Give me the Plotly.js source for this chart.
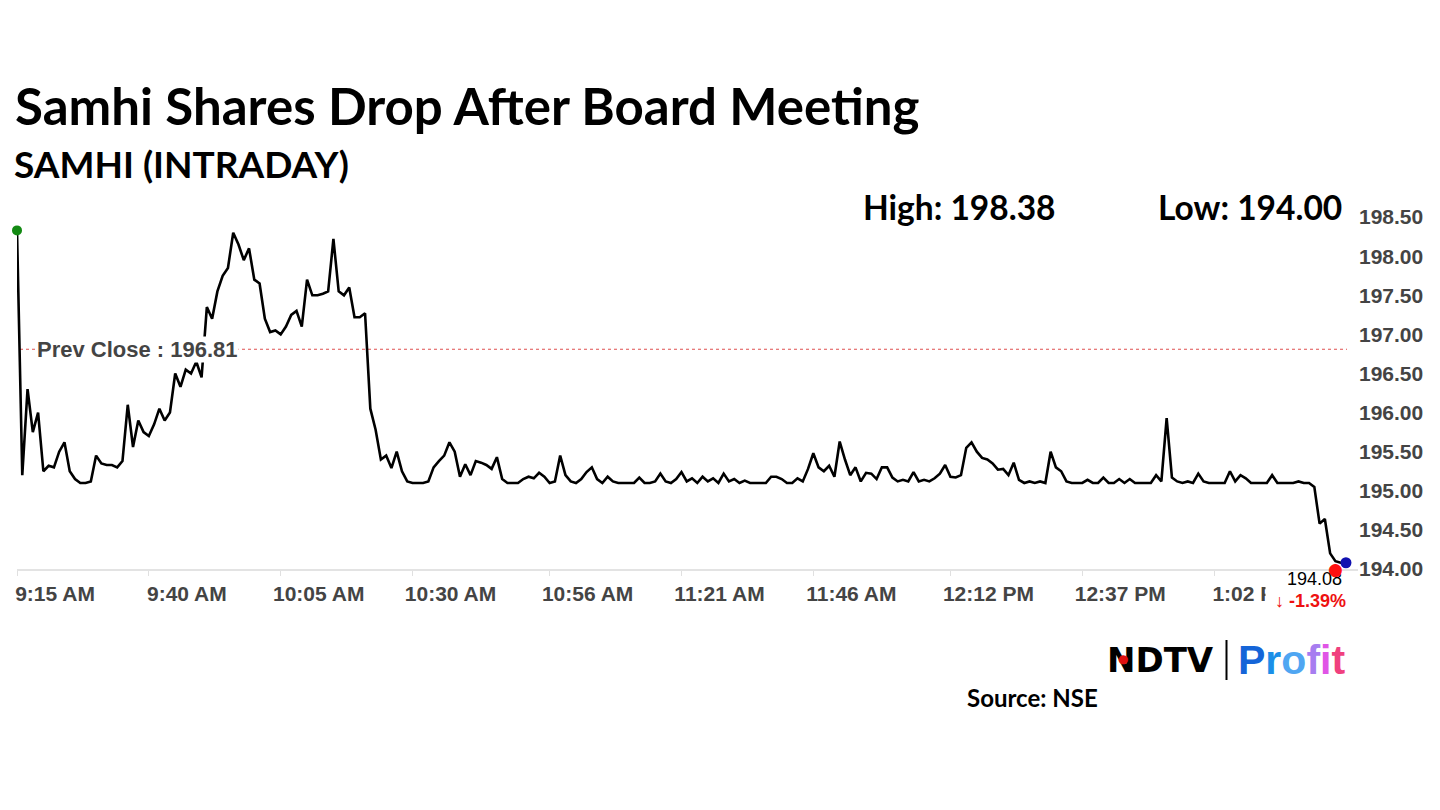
<!DOCTYPE html>
<html><head><meta charset="utf-8">
<script src="https://cdn.plot.ly/plotly-3.0.1.min.js"></script>
<style>html,body{margin:0;padding:0;background:#fff;} #chart{width:1440px;height:810px;}</style>
</head><body><div id="chart"></div>
<script>
// ---------- DATA ----------
const sessionDate = "2024-01-01";
const startHour = 9, startMinute = 15;   // first sample 9:15 AM, one sample per minute
const prices = [
198.33,195.20,196.30,195.75,196.00,195.25,195.32,195.30,195.50,195.62,
195.25,195.15,195.10,195.10,195.12,195.45,195.35,195.33,195.33,195.30,
195.38,196.10,195.56,195.90,195.75,195.70,195.85,196.05,195.90,196.00,
196.50,196.33,196.55,196.50,196.65,196.45,197.35,197.20,197.55,197.75,
197.85,198.30,198.15,197.95,198.10,197.70,197.65,197.20,197.03,197.05,
197.00,197.10,197.25,197.30,197.10,197.70,197.50,197.50,197.52,197.55,
198.22,197.55,197.50,197.60,197.22,197.22,197.27,196.05,195.78,195.40,
195.45,195.29,195.50,195.25,195.12,195.10,195.10,195.10,195.12,195.30,
195.38,195.45,195.62,195.50,195.18,195.34,195.20,195.38,195.36,195.33,
195.28,195.43,195.15,195.10,195.10,195.10,195.15,195.18,195.16,195.23,
195.18,195.10,195.12,195.45,195.20,195.12,195.10,195.15,195.24,195.30,
195.15,195.10,195.18,195.12,195.10,195.10,195.10,195.10,195.17,195.10,
195.10,195.12,195.22,195.12,195.10,195.15,195.24,195.12,195.16,195.10,
195.18,195.12,195.16,195.10,195.22,195.12,195.15,195.10,195.13,195.10,
195.10,195.10,195.10,195.18,195.18,195.15,195.10,195.10,195.16,195.12,
195.28,195.48,195.30,195.25,195.32,195.18,195.63,195.40,195.20,195.30,
195.12,195.23,195.22,195.15,195.30,195.30,195.17,195.12,195.14,195.12,
195.24,195.12,195.14,195.12,195.16,195.22,195.33,195.18,195.17,195.20,
195.55,195.62,195.50,195.42,195.40,195.35,195.27,195.28,195.20,195.36,
195.14,195.10,195.12,195.10,195.12,195.10,195.50,195.30,195.25,195.12,
195.10,195.10,195.10,195.14,195.10,195.10,195.17,195.10,195.10,195.15,
195.10,195.15,195.10,195.10,195.10,195.10,195.20,195.12,195.93,195.17,
195.12,195.10,195.12,195.10,195.22,195.12,195.10,195.10,195.10,195.10,
195.25,195.12,195.20,195.16,195.10,195.10,195.10,195.10,195.20,195.10,
195.10,195.10,195.10,195.12,195.10,195.10,195.05,194.58,194.64,194.20,
194.10,194.08,194.08
];
const tickMinutes = [0, 25, 50, 75, 101, 126, 151, 177, 202, 227];
const tickLabels = ["9:15 AM","9:40 AM","10:05 AM","10:30 AM","10:56 AM","11:21 AM","11:46 AM","12:12 PM","12:37 PM","1:02 PM"];
const yTickValues = [194.0,194.5,195.0,195.5,196.0,196.5,197.0,197.5,198.0,198.5];
const yTickLabels = ["194.00","194.50","195.00","195.50","196.00","196.50","197.00","197.50","198.00","198.50"];
const prevClose = 196.81;
const dayHigh = 198.38;
const dayLow = 194.00;
const lowMinute = 250;
const lastPrice = 194.08;
const changePct = -1.39;
const titleText = "Samhi Shares Drop After Board Meeting";
const subtitleText = "SAMHI (INTRADAY)";
const sourceText = "Source: NSE";

// ---------- HELPERS ----------
function pad(n){ return (n<10?"0":"")+n; }
function minuteToTime(m){
  const total = startHour*60 + startMinute + m;
  const h = Math.floor(total/60), mi = Math.floor(total%60), s = Math.round((total - Math.floor(total))*60);
  return sessionDate + " " + pad(h) + ":" + pad(mi) + ":" + pad(s);
}
const times = prices.map((p,i)=>minuteToTime(i));
const lastIdx = prices.length-1;

// layout geometry (pixels)
const W=1440, H=810, L=17, R=1358, T=209, B=569;
const px = x => (x-L)/(R-L);
const py = y => (B-y)/(B-T);

const axisFont = {family:"Liberation Sans, Arial, sans-serif", size:21, color:"#444", weight:700};

const traces = [
  {x: times, y: prices, type:"scatter", mode:"lines", line:{color:"#000", width:2.6}, hoverinfo:"skip"},
  {x:[times[0]], y:[prices[0]], type:"scatter", mode:"markers", marker:{color:"#138a13", size:10}, cliponaxis:false},
  {x:[times[lastIdx]], y:[lastPrice], type:"scatter", mode:"markers", marker:{color:"#1010b0", size:11}, cliponaxis:false}
];

const layout = {
  width:W, height:H, showlegend:false,
  paper_bgcolor:"#fff", plot_bgcolor:"#fff",
  margin:{l:L, r:W-R, t:T, b:H-B, pad:0},
  title:{text:"<b>"+titleText+"</b>", x:15/W, xref:"container", xanchor:"left",
         y:1-107/H, yref:"container", yanchor:"middle",
         font:{family:"Lato, sans-serif", size:51, color:"#000"}},
  xaxis:{type:"date", range:[minuteToTime(0), minuteToTime((R-L)/((1346-L)/lastIdx))],
         tickvals: tickMinutes.map(minuteToTime), ticktext: tickLabels,
         ticks:"outside", ticklen:5, tickcolor:"#e0e0e0", tickwidth:1,
         showline:true, linecolor:"#e3e3e3", linewidth:2, showgrid:false, zeroline:false,
         ticklabelshift:38, tickfont:axisFont, fixedrange:true},
  yaxis:{side:"right", range:[194.0, 194.0 + (B-T)/78.2], tickvals:yTickValues, ticktext:yTickLabels,
         ticks:"", showline:false, showgrid:false, zeroline:false, tickfont:axisFont, fixedrange:true},
  shapes:[
    {type:"line", xref:"paper", yref:"y", x0:px(20), x1:px(1347), y0:prevClose, y1:prevClose,
     line:{color:"#e05050", width:1.2, dash:"dot"}, layer:"below"},
    {type:"line", xref:"paper", yref:"paper", x0:px(1226.5), x1:px(1226.5), y0:py(640), y1:py(680),
     line:{color:"#000", width:2}}
  ],
  annotations:[
    {text:"<b>"+subtitleText+"</b>", xref:"paper", yref:"paper", x:px(12), y:py(163), xanchor:"left", yanchor:"middle",
     showarrow:false, font:{family:"Lato, sans-serif", size:37, color:"#000"}},
    {text:"<b>High: "+dayHigh.toFixed(2)+"</b>", xref:"paper", yref:"paper", x:px(861), y:py(207), xanchor:"left", yanchor:"middle",
     showarrow:false, font:{family:"Lato, sans-serif", size:33.5, color:"#000"}},
    {text:"<b>Low: "+dayLow.toFixed(2)+"</b>", xref:"paper", yref:"paper", x:px(1344), y:py(207), xanchor:"right", yanchor:"middle",
     showarrow:false, font:{family:"Lato, sans-serif", size:33.5, color:"#000"}},
    {text:"<b>Prev Close : "+prevClose.toFixed(2)+"</b>", xref:"paper", yref:"y", x:px(36), y:prevClose, xanchor:"left", yanchor:"middle",
     showarrow:false, bgcolor:"#fff", borderpad:0, font:{family:"Liberation Sans, Arial, sans-serif", size:22, color:"#444"}},
    {text:"<b>\u2193 "+changePct.toFixed(2)+"%</b>", xref:"paper", yref:"paper", x:px(1347), y:py(580), xanchor:"right", yanchor:"top",
     width:80, height:30, align:"right", valign:"bottom", showarrow:false, bgcolor:"#fff", borderpad:0,
     font:{family:"Liberation Sans, Arial, sans-serif", size:18, color:"#ee1111"}},
    {text:lastPrice.toFixed(2), xref:"paper", yref:"paper", x:px(1344), y:py(579), xanchor:"right", yanchor:"middle",
     showarrow:false, font:{family:"Liberation Sans, Arial, sans-serif", size:18, color:"#000"}},
    {text:"\u25CF", xref:"x", yref:"y", x:minuteToTime(lowMinute), y:dayLow, xanchor:"center", yanchor:"middle",
     showarrow:false, font:{family:"DejaVu Sans, sans-serif", size:17, color:"#ff1010"}},
    {text:"<b>NDTV</b>", xref:"paper", yref:"paper", x:px(1105), y:py(660), xanchor:"left", yanchor:"middle",
     showarrow:false, font:{family:"DejaVu Sans, sans-serif", size:34, color:"#000"}},
    {text:"\u25CF", xref:"paper", yref:"paper", x:px(1123), y:py(659), xanchor:"center", yanchor:"middle",
     showarrow:false, font:{family:"DejaVu Sans, sans-serif", size:12, color:"#e01010"}},
    {text:"<b><span style='color:#1565d8'>P</span><span style='color:#1b8fe8'>r</span><span style='color:#4fa6f2'>o</span><span style='color:#a77df0'>f</span><span style='color:#e055e6'>i</span><span style='color:#f0407e'>t</span></b>",
     xref:"paper", yref:"paper", x:px(1236), y:py(660), xanchor:"left", yanchor:"middle",
     showarrow:false, font:{family:"Liberation Sans, Arial, sans-serif", size:41, color:"#1565d8"}},
    {text:"<b>"+sourceText+"</b>", xref:"paper", yref:"paper", x:px(1032), y:py(697), xanchor:"center", yanchor:"middle",
     showarrow:false, font:{family:"Lato, sans-serif", size:24, color:"#000"}}
  ]
};

Plotly.newPlot("chart", traces, layout, {displayModeBar:false, staticPlot:true});
</script></body></html>
